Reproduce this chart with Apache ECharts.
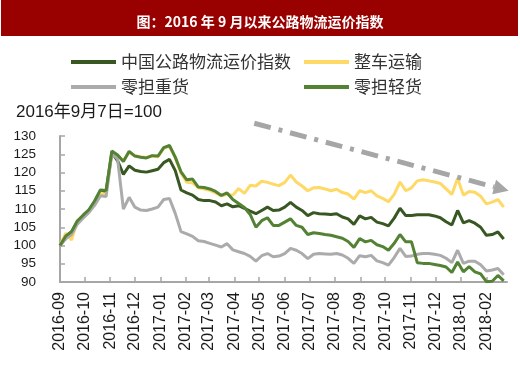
<!DOCTYPE html>
<html><head><meta charset="utf-8">
<script src="https://cdn.jsdelivr.net/npm/echarts@6/dist/echarts.min.js"></script>
<style>html,body{margin:0;padding:0;background:#fff}#c{width:520px;height:374px}</style>
</head><body><div id="c"></div>
<script>
const chartTitle = '图：2016 年 9 月以来公路物流运价指数';
const baseNote = '2016年9月7日=100';
const seriesNames = ['中国公路物流运价指数', '整车运输', '零担重货', '零担轻货'];
const monthTicks = ['2016-09','2016-10','2016-11','2016-12','2017-01','2017-02','2017-03','2017-04','2017-05','2017-06','2017-07','2017-08','2017-09','2017-10','2017-11','2017-12','2018-01','2018-02'];
const firstWeek = '2016-09-07';
const weekCount = 78;

const indexValues = [100,102.5,103.7,106.5,108,109.5,112,114.8,114.8,125.5,123.2,119.5,121.8,120.6,120.3,120.1,120.5,120.9,122.7,123.6,
  120.5,115.2,114.4,113.8,112.6,112.3,112.3,111.9,110.9,111.4,110.6,110.9,110.2,109.4,108.7,109.6,110.5,109.6,109.7,110.5,
  111.8,110.5,109.6,108.2,109,108.7,108.6,108.5,108.7,107.8,107.3,105.8,108.1,107.3,107.7,106.4,106,105.4,107.5,110.2,
  108.2,108.2,108.4,108.4,108.4,108.1,107.6,106.5,105.6,109.6,106.2,106.8,106.1,105,102.8,103,103.7,101.8];
const ftlValues = [100,103.4,101.5,106.8,108,109.2,111.5,114.4,114,125.6,124.6,123.3,125.5,124.6,124.3,124.1,124.6,124.3,126.6,127.2,
  124,119.8,117.3,117.2,115.8,115.5,115.1,114.4,113.6,114,113.8,115.6,114.3,116.5,116.3,117.6,117.3,116.8,116.4,117.3,
  119.3,117.4,116.3,115,115.8,115.9,115.5,115,115.4,114.5,114.1,112.7,115,114.5,115,113.6,112.9,112,114,117.4,
  115,115.8,117.7,118,117.7,117.4,117,115.5,114,118.4,113.8,114.8,114.6,113.5,111.4,111.9,112.6,110.5];
const heavyValues = [100,101.8,103,105.8,107.5,109,111,113.6,113.4,125.4,123.6,110,113.2,110.5,109.7,109.6,110,110.5,112.6,112.9,
  108.8,103.8,103.2,102.5,101.3,101.1,100.6,100.1,99.6,100.5,98.8,98.3,97.8,97,95.7,97.2,97.8,96.9,97.1,97.8,
  99.2,98.7,97.8,96.4,97.6,97.8,97.7,97.6,97.8,97.4,96.5,95.1,97.2,96.9,97.3,95.8,95.3,94.6,96.7,99.2,
  97,97.1,97.6,97.8,97.8,97.6,97.3,96.5,95.3,98.7,95.1,95.7,95.7,94.7,93,93.3,93.7,92];
const lightValues = [100,102.6,103.8,106.7,108.3,109.8,112.2,115.2,115.1,125.9,124.8,123,125.8,124.5,124.2,124,124.6,124.5,126.8,127.4,
  124.2,120.2,118,118.2,116,115.9,115.5,114.8,113.7,114.4,112.6,111.5,110.4,108.5,105,106.8,107.6,105.5,105.5,106.4,
  107.3,105.5,105,103,103.5,103.3,103,102.8,102.4,102,101.1,99.5,101.9,101,101.4,100.2,99.7,98.7,100.6,103,
  101,101,95.3,95.1,95.1,94.8,94.5,94.1,92.6,95.5,92.8,94.2,92.8,92.2,90.1,90.2,91.8,90.3];
const yTicks = {min: 90, max: 130, step: 5};
// trend arrow anchors in data space: [date, value]
const arrowFrom = ['2017-05-01', 133.5];
const arrowTo = ['2018-03-06', 115.0];

function parseDay(s) { const p = s.split('-').map(Number); return new Date(p[0], p[1]-1, p[2] || 1).getTime(); }
const w0 = firstWeek.split('-').map(Number);
const dates = [];
for (let i = 0; i < weekCount; i++) dates.push(new Date(w0[0], w0[1]-1, w0[2] + 7*i).getTime());
const tickDates = monthTicks.map(m => parseDay(m + '-07'));
const pair = vals => vals.map((v, i) => [dates[i], v]);

const colors = ['#385723', '#FFD966', '#ABABAB', '#548235'];
const valuesList = [indexValues, ftlValues, heavyValues, lightValues];
const fontLatin = '"Liberation Sans", Arial, "Noto Sans CJK SC", sans-serif';

const chart = echarts.init(document.getElementById('c'), null, {renderer: 'canvas'});
const legendText = {fontSize: 17, lineHeight: 17, color: '#333', fontFamily: '"Noto Sans CJK SC", sans-serif'};
const arrowGraphics = [];
function buildOption() {
  return {
  animation: false,
  backgroundColor: '#fff',
  title: [
    {text: chartTitle, left: 'center', top: 10, z: 10,
      textStyle: {color: '#fff', fontSize: 14, fontWeight: 'bold', fontFamily: '"Noto Sans CJK SC", sans-serif'}},
    {text: baseNote, left: 16, top: 104, padding: 0,
      textStyle: {color: '#1a1a1a', fontSize: 17, fontWeight: 'normal', fontFamily: fontLatin}}
  ],
  graphic: [{type: 'rect', z: 0, shape: {x: 1, y: 0, width: 517, height: 36}, style: {fill: '#990000'}}].concat(arrowGraphics),
  legend: [
    {left: 71, top: 53.5, orient: 'vertical', itemGap: 8, itemWidth: 45, itemHeight: 4, icon: 'rect', padding: 0,
      data: [seriesNames[0], seriesNames[2]], textStyle: legendText},
    {left: 304, top: 53.5, orient: 'vertical', itemGap: 8, itemWidth: 45, itemHeight: 4, icon: 'rect', padding: 0,
      data: [seriesNames[1], seriesNames[3]], textStyle: legendText}
  ],
  grid: {left: 60, right: 13, top: 136, bottom: 92, containLabel: false},
  xAxis: {
    type: 'value', min: dates[0], max: parseDay('2018-03-04'), scale: true,
    axisLine: {lineStyle: {color: '#A6A6A6', width: 2}},
    axisTick: {show: true, inside: true, length: 5, customValues: tickDates, lineStyle: {color: '#A6A6A6', width: 1.5}},
    axisLabel: {customValues: tickDates, rotate: 90, margin: 10, fontSize: 16, color: '#1a1a1a', fontFamily: fontLatin,
      formatter: function (v) { const d = new Date(v); return d.getFullYear() + '-' + String(d.getMonth()+1).padStart(2, '0'); }},
    splitLine: {show: false}
  },
  yAxis: {
    type: 'value', min: yTicks.min, max: yTicks.max, interval: yTicks.step,
    axisLine: {show: true, lineStyle: {color: '#A6A6A6', width: 2}},
    axisTick: {show: true, inside: true, length: 5, lineStyle: {color: '#A6A6A6', width: 1.5}},
    axisLabel: {margin: 24, fontSize: 13.5, color: '#1a1a1a', fontFamily: fontLatin},
    splitLine: {show: false}
  },
  series: seriesNames.map((n, k) => ({
    name: n, type: 'line', data: pair(valuesList[k]), showSymbol: false, symbol: 'none',
    lineStyle: {width: 3, color: colors[k]}, itemStyle: {color: colors[k]}, z: 2 + k
  }))
  };
}
chart.setOption(buildOption());

// trend arrow (annotation) positioned through the axes
const p0 = chart.convertToPixel({xAxisIndex: 0, yAxisIndex: 0}, [parseDay(arrowFrom[0]), arrowFrom[1]]);
const p1 = chart.convertToPixel({xAxisIndex: 0, yAxisIndex: 0}, [parseDay(arrowTo[0]), arrowTo[1]]);
const dx = p1[0]-p0[0], dy = p1[1]-p0[1], L = Math.hypot(dx, dy), ux = dx/L, uy = dy/L;
const headLen = 15, headHalf = 7.5;
const base = [p1[0]-ux*headLen, p1[1]-uy*headLen];
arrowGraphics.push(
  {type: 'line', z: 20, shape: {x1: p0[0], y1: p0[1], x2: base[0], y2: base[1]},
    style: {stroke: '#A6A6A6', lineWidth: 5, lineDash: [17, 8, 4, 8], lineCap: 'butt'}},
  {type: 'polygon', z: 20, shape: {points: [[p1[0], p1[1]], [base[0]-uy*headHalf, base[1]+ux*headHalf], [base[0]+uy*headHalf, base[1]-ux*headHalf]]},
    style: {fill: '#A6A6A6'}}
);
chart.setOption(buildOption(), true);
</script></body></html>
